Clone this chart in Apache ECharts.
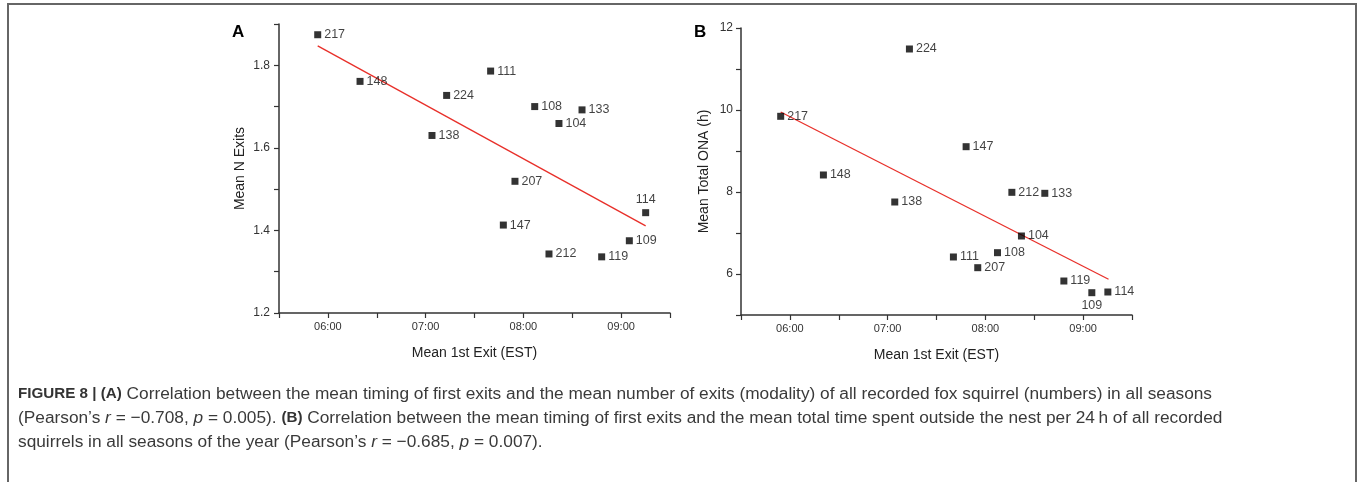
<!DOCTYPE html>
<html>
<head>
<meta charset="utf-8">
<script src="https://cdn.jsdelivr.net/npm/echarts@6/dist/echarts.min.js"></script>
<style>
  html, body { margin: 0; padding: 0; background: #fff; }
  #chart { width: 1362px; height: 482px; }
</style>
</head>
<body>
<div id="chart"></div>
<script>
// squirrel ids, shared by both panels
const idsA = ['217', '148', '224', '111', '138', '108', '133', '104', '207', '147', '212', '119', '109', '114'];
// mean 1st exit in decimal hours (panel A)
const exitA = [5.896, 6.329, 7.215, 7.665, 7.065, 8.116, 8.600, 8.364, 7.914, 7.795, 8.262, 8.801, 9.084, 9.251];
const nExitsA = [1.874, 1.761, 1.727, 1.786, 1.630, 1.700, 1.692, 1.659, 1.519, 1.413, 1.343, 1.336, 1.375, 1.443];
const fitA = [[5.896, 1.847], [9.251, 1.411]];

const idsB = ['224', '217', '147', '148', '138', '212', '133', '104', '111', '108', '207', '119', '109', '114'];
const exitB = [7.223, 5.906, 7.803, 6.343, 7.073, 8.271, 8.608, 8.369, 7.673, 8.124, 7.922, 8.803, 9.089, 9.253];
const onaB = [11.488, 9.846, 9.105, 8.415, 7.756, 7.992, 7.968, 6.927, 6.415, 6.520, 6.154, 5.829, 5.544, 5.561];
const fitB = [[5.906, 9.951], [9.26, 5.871]];

const xTicks = ['06:00', '07:00', '08:00', '09:00'];

const labelAboveA = ['114'];
const labelBelowB = ['109'];

const chart = echarts.init(document.getElementById('chart'));

const font = 'Liberation Sans, Arial, sans-serif';
const narrow = 'Liberation Sans Narrow, Liberation Sans, Arial, sans-serif';

function pts(ids, xs, ys, special, pos) {
  return ids.map((id, i) => {
    const item = { name: id, value: [xs[i], ys[i]] };
    if (special.includes(id)) item.label = { position: pos, distance: 3 };
    return item;
  });
}

function xAxis(idx) {
  return {
    type: 'value', gridIndex: idx, min: 5.5, max: 9.5, interval: 0.5,
    name: 'Mean 1st Exit (EST)', nameLocation: 'middle', nameGap: 33,
    nameTextStyle: { fontFamily: font, fontSize: 14, color: '#222' },
    axisLine: { lineStyle: { color: '#333', width: 1.5 } },
    axisTick: { length: 5, lineStyle: { color: '#333', width: 1.2 } },
    splitLine: { show: false },
    axisLabel: {
      fontFamily: narrow, fontSize: 11, color: '#333', margin: 8,
      formatter: v => {
        const k = Math.round(v) - 6;
        return Math.abs(v - Math.round(v)) < 1e-6 && k >= 0 && k < xTicks.length ? xTicks[k] : '';
      }
    }
  };
}

chart.setOption({
  animation: false,
  grid: [
    { left: 279, top: 24, width: 391, height: 289 },
    { left: 741, top: 28, width: 391, height: 287 }
  ],
  xAxis: [xAxis(0), xAxis(1)],
  yAxis: [
    {
      type: 'value', gridIndex: 0, min: 1.2, max: 1.9, interval: 0.1,
      name: 'Mean N Exits', nameLocation: 'middle', nameGap: 32,
      nameTextStyle: { fontFamily: font, fontSize: 14, color: '#222' },
      axisLine: { show: true, lineStyle: { color: '#333', width: 1.5 } },
      axisTick: { show: true, length: 5, lineStyle: { color: '#333', width: 1.2 } },
      splitLine: { show: false },
      axisLabel: {
        fontFamily: font, fontSize: 12, color: '#333', margin: 9,
        formatter: v => Math.round(v * 10) % 2 === 0 ? v.toFixed(1) : ''
      }
    },
    {
      type: 'value', gridIndex: 1, min: 5, max: 12, interval: 1,
      name: 'Mean Total ONA (h)', nameLocation: 'middle', nameGap: 30,
      nameTextStyle: { fontFamily: font, fontSize: 14, color: '#222' },
      axisLine: { show: true, lineStyle: { color: '#333', width: 1.5 } },
      axisTick: { show: true, length: 5, lineStyle: { color: '#333', width: 1.2 } },
      splitLine: { show: false },
      axisLabel: {
        fontFamily: font, fontSize: 12, color: '#333', margin: 8,
        formatter: v => Math.round(v) % 2 === 0 ? String(Math.round(v)) : ''
      }
    }
  ],
  series: [
    {
      type: 'line', xAxisIndex: 0, yAxisIndex: 0, data: fitA, symbol: 'none',
      lineStyle: { color: '#e8302a', width: 1.3 }, z: 1
    },
    {
      type: 'scatter', xAxisIndex: 0, yAxisIndex: 0,
      data: pts(idsA, exitA, nExitsA, labelAboveA, 'top'),
      symbol: 'rect', symbolSize: 7, itemStyle: { color: '#000' },
      label: { show: true, position: 'right', distance: 3, formatter: '{b}', fontFamily: font, fontSize: 12.5, color: '#111' },
      z: 3
    },
    {
      type: 'line', xAxisIndex: 1, yAxisIndex: 1, data: fitB, symbol: 'none',
      lineStyle: { color: '#e8302a', width: 1.3 }, z: 1
    },
    {
      type: 'scatter', xAxisIndex: 1, yAxisIndex: 1,
      data: pts(idsB, exitB, onaB, labelBelowB, 'bottom'),
      symbol: 'rect', symbolSize: 7, itemStyle: { color: '#000' },
      label: { show: true, position: 'right', distance: 3, formatter: '{b}', fontFamily: font, fontSize: 12.5, color: '#111' },
      z: 3
    }
  ],
  graphic: [
    {
      type: 'rect', shape: { x: 8, y: 4, width: 1348, height: 520 },
      style: { fill: 'none', stroke: '#666', lineWidth: 2 }, z: 0
    },
    { type: 'text', left: 232, top: 24, style: { text: 'A', font: 'bold 17px ' + font, fill: '#000' } },
    { type: 'text', left: 694, top: 24, style: { text: 'B', font: 'bold 17px ' + font, fill: '#000' } },
    {
      type: 'text', left: 18, top: 382,
      style: {
        text: '{b|FIGURE 8 | (A)} Correlation between the mean timing of first exits and the mean number of exits (modality) of all recorded fox squirrel (numbers) in all seasons\n' +
              '(Pearson\u2019s {i|r} = \u22120.708, {i|p} = 0.005). {b|(B)} Correlation between the mean timing of first exits and the mean total time spent outside the nest per 24\u2009h of all recorded\n' +
              'squirrels in all seasons of the year (Pearson\u2019s {i|r} = \u22120.685, {i|p} = 0.007).',
        fontFamily: font, fontSize: 17.3, fill: '#3a3a3a', lineHeight: 24,
        rich: {
          b: { fontFamily: font, fontSize: 15.2, fontWeight: 'bold', fill: '#333', lineHeight: 24 },
          i: { fontFamily: font, fontSize: 17.3, fontStyle: 'italic', fill: '#3a3a3a', lineHeight: 24 }
        }
      }
    }
  ]
});
</script>
</body>
</html>
